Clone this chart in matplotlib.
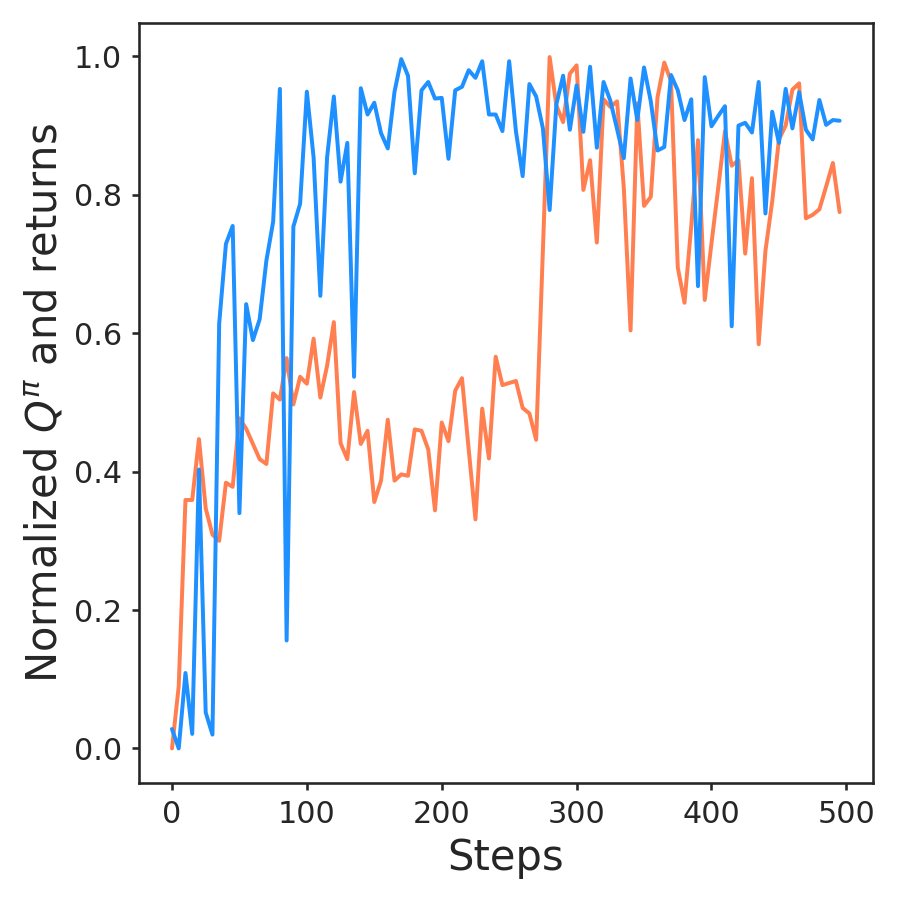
import numpy as np
import matplotlib

matplotlib.use("Agg")
import matplotlib.pyplot as plt
import seaborn as sns

steps = np.arange(0, 500, 5)

q_values = [
    0.028, 0.000, 0.109, 0.021, 0.403, 0.052, 0.020, 0.614, 0.729, 0.755,
    0.340, 0.642, 0.590, 0.620, 0.705, 0.761, 0.953, 0.156, 0.754, 0.787,
    0.949, 0.854, 0.654, 0.854, 0.942, 0.819, 0.875, 0.537, 0.954, 0.916,
    0.933, 0.889, 0.867, 0.949, 0.996, 0.972, 0.831, 0.951, 0.963, 0.939,
    0.940, 0.852, 0.951, 0.956, 0.980, 0.969, 0.993, 0.916, 0.916, 0.892,
    0.993, 0.892, 0.827, 0.960, 0.942, 0.896, 0.778, 0.931, 0.972, 0.894,
    0.958, 0.891, 0.985, 0.868, 0.963, 0.936, 0.895, 0.853, 0.968, 0.908,
    0.984, 0.935, 0.864, 0.869, 0.973, 0.951, 0.908, 0.938, 0.668, 0.970,
    0.899, 0.914, 0.928, 0.610, 0.900, 0.904, 0.890, 0.963, 0.773, 0.920,
    0.875, 0.953, 0.896, 0.948, 0.894, 0.880, 0.937, 0.901, 0.908, 0.907,
]

returns = [
    0.000, 0.090, 0.359, 0.359, 0.447, 0.347, 0.309, 0.300, 0.384, 0.378,
    0.477, 0.462, 0.440, 0.418, 0.411, 0.513, 0.504, 0.564, 0.497, 0.537,
    0.527, 0.592, 0.507, 0.553, 0.616, 0.441, 0.418, 0.515, 0.440, 0.459,
    0.356, 0.387, 0.475, 0.387, 0.396, 0.394, 0.461, 0.459, 0.432, 0.344,
    0.471, 0.444, 0.517, 0.535, 0.432, 0.331, 0.491, 0.419, 0.566, 0.525,
    0.528, 0.531, 0.492, 0.484, 0.446, 0.720, 0.999, 0.929, 0.905, 0.975,
    0.987, 0.807, 0.850, 0.731, 0.938, 0.927, 0.935, 0.810, 0.604, 0.932,
    0.784, 0.797, 0.941, 0.991, 0.964, 0.695, 0.644, 0.755, 0.879, 0.648,
    0.730, 0.810, 0.892, 0.842, 0.850, 0.715, 0.824, 0.584, 0.719, 0.790,
    0.880, 0.900, 0.952, 0.961, 0.766, 0.771, 0.779, 0.812, 0.846, 0.775,
]

sns.set_theme(style="ticks")
plt.rcParams["font.family"] = ["DejaVu Sans"]

fig, ax = plt.subplots(figsize=(6, 6), dpi=150)
ax.plot(steps, returns, color="coral", linewidth=1.9)
ax.plot(steps, q_values, color="dodgerblue", linewidth=1.9)

ax.set_xlabel("Steps", fontsize=20)
ax.set_ylabel(r"Normalized $Q^{\pi}$ and returns", fontsize=20)
ax.set_xticks([0, 100, 200, 300, 400, 500])
ax.set_yticks([0.0, 0.2, 0.4, 0.6, 0.8, 1.0])
ax.tick_params(labelsize=14.5, length=3.2, pad=4.8)

fig.subplots_adjust(left=0.154, right=0.970, bottom=0.130, top=0.975)
fig.savefig("out.png")
plt.close(fig)
